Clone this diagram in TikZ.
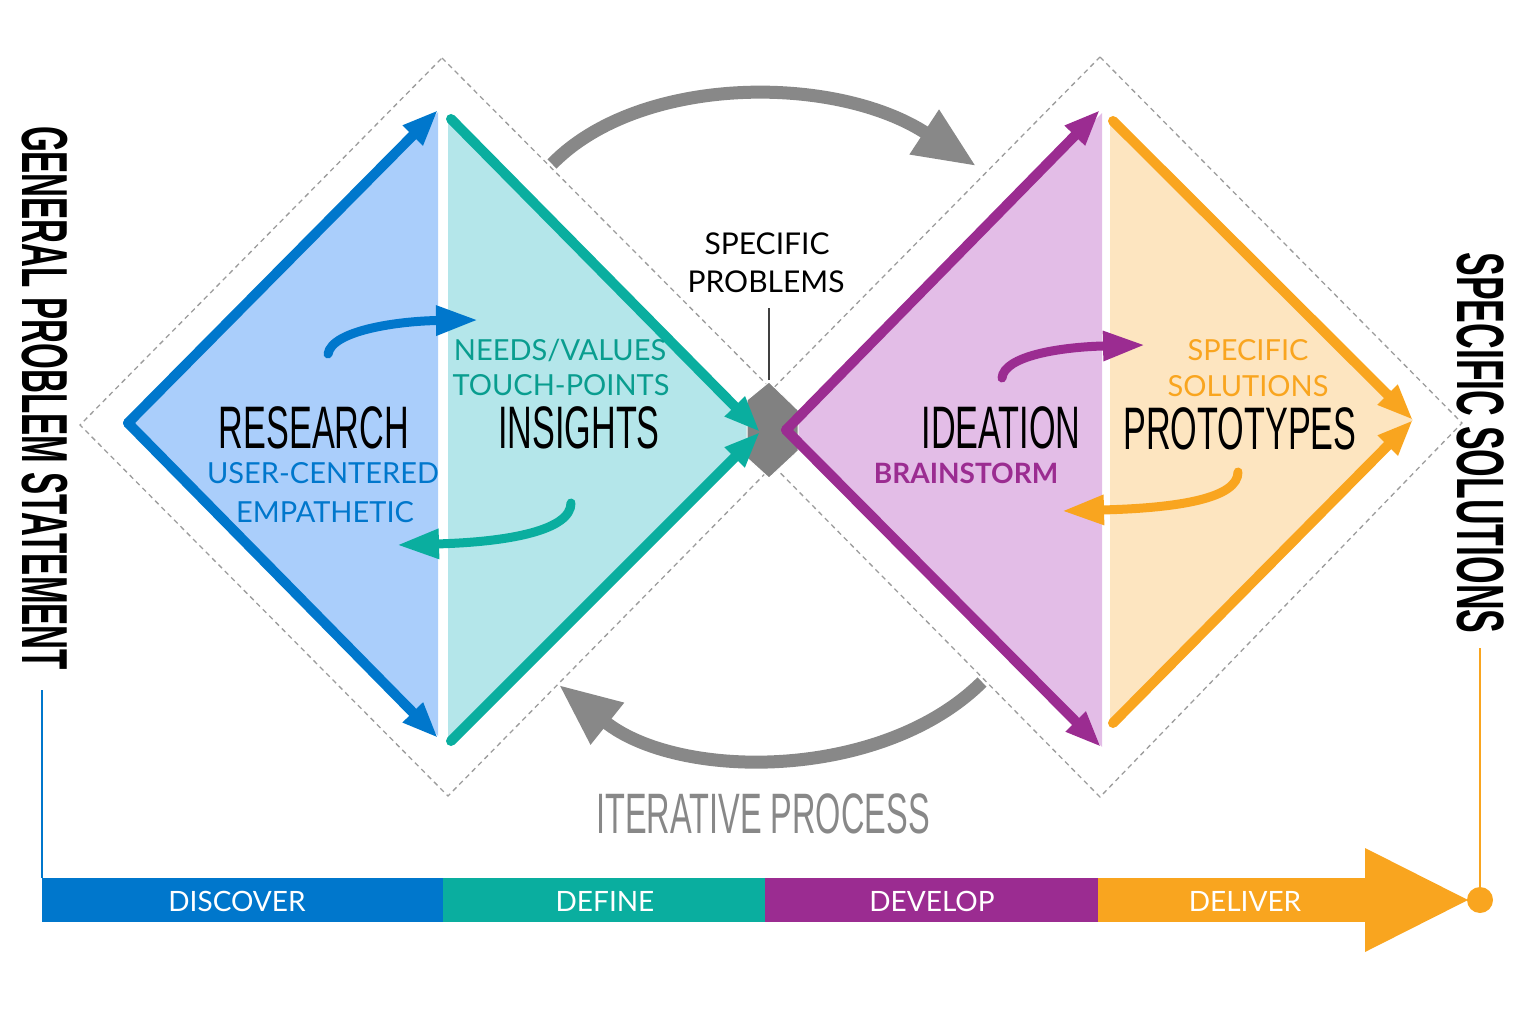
\documentclass[tikz,border=0pt]{standalone}
\usepackage{fontspec}
\setmainfont{Lato}
\newfontfamily\condfont[FakeStretch=0.57]{Liberation Sans}
\newfontfamily\condboldfont[FakeStretch=0.51]{Liberation Sans Bold}
\newfontfamily\condwidefont[FakeStretch=0.53]{Liberation Sans Bold}
\usetikzlibrary{arrows.meta}
\definecolor{discoverblue}{HTML}{0077CC}
\definecolor{discoverfill}{HTML}{AACEFB}
\definecolor{defineteal}{HTML}{0AAE9F}
\definecolor{definefill}{HTML}{B4E6EA}
\definecolor{developpurple}{HTML}{9B2C91}
\definecolor{developfill}{HTML}{E3BDE7}
\definecolor{deliverorange}{HTML}{F9A51F}
\definecolor{deliverfill}{HTML}{FDE5C0}
\definecolor{iterategray}{HTML}{888888}
\definecolor{guidegray}{HTML}{9C9C9C}

\begin{document}
\begin{tikzpicture}[x=1pt, y=-1pt,
    guide/.style={draw=guidegray, line width=1.3pt, dash pattern=on 5pt off 4pt},
    rim/.style={line width=10pt, line cap=round, line join=round, -{Triangle[length=36pt,width=26pt]}},
    loopback/.style={line width=9pt, line cap=round, -{Triangle[length=42pt,width=28pt]}},
    bigarc/.style={iterategray, line width=13pt, -{Triangle[length=62pt,width=50pt]}},
    headline/.style={font=\condfont\fontsize{60}{60}\selectfont, anchor=base, inner sep=0pt},
    tag/.style={font=\fontsize{29}{29}\selectfont, anchor=base, inner sep=0pt},
    sidetitle/.style={font=\condboldfont\fontsize{65}{65}\selectfont, rotate=-90, inner sep=0pt},
    phase/.style={font=\fontsize{28}{28}\selectfont, text=white, anchor=base, inner sep=0pt}]
    \useasboundingbox (0,0) rectangle (1536,1024);

    % dashed double diamond
    \draw[guide] (442,58) -- (810,428) -- (448,796) -- (80,425) -- cycle;
    \draw[guide] (1100,57) -- (1462,423) -- (1100,797) -- (735,427) -- cycle;

    % corner points of the four halves
    \coordinate (discL) at (128,423);
    \coordinate (discT) at (438,110);
    \coordinate (discB) at (438,738);
    \coordinate (defT) at (451,119);
    \coordinate (defB) at (451,741);
    \coordinate (defR) at (760,432);
    \coordinate (devL) at (786,430);
    \coordinate (devT) at (1100,110);
    \coordinate (devB) at (1101,747);
    \coordinate (delT) at (1113,121);
    \coordinate (delB) at (1113,723);
    \coordinate (delR) at (1413,420);

    \fill[discoverfill] (128,423) -- (438,112) -- (438,736) -- cycle;
    \fill[definefill] (448,116) -- (760,432) -- (448,744) -- cycle;
    \fill[developfill] (786,430) -- (1102,113) -- (1102,747) -- cycle;
    \fill[deliverfill] (1110,118) -- (1413,420) -- (1110,727) -- cycle;

    % specific problems marker
    \fill[iterategray!95!black, draw=white, line width=1pt]
        (769,382) -- (798,410) -- (798,451) -- (769,478) -- (747,458) -- (747,400) -- cycle;
    \coordinate (probTop) at (769,380);
    \node[tag, font=\fontsize{30}{30}\selectfont] (probA) at (767,255) {SPECIFIC};
    \node[tag, font=\fontsize{30}{30}\selectfont] (probB) at (766,293) {PROBLEMS};
    \draw[line width=1.2pt, black!75] (769,308) -- (probTop);

    % diamond rims
    \draw[rim, discoverblue] (discL) -- (discT);
    \draw[rim, discoverblue] (discL) -- (discB);
    \draw[rim, defineteal] (defT) -- (defR);
    \draw[rim, defineteal] (defB) -- (defR);
    \draw[rim, developpurple] (devL) -- (devT);
    \draw[rim, developpurple] (devL) -- (devB);
    \draw[rim, deliverorange] (delT) -- (delR);
    \draw[rim, deliverorange] (delB) -- (delR);

    % small loops between halves
    \draw[loopback, discoverblue] (328,354) .. controls (332,330) and (400,321) .. (478,320);
    \draw[loopback, defineteal] (571,503) .. controls (571,530) and (510,542) .. (397,545);
    \draw[loopback, developpurple] (1002,378) .. controls (1004,356) and (1060,347) .. (1145,345);
    \draw[loopback, deliverorange] (1238,472) .. controls (1238,498) and (1180,508) .. (1062,511);

    % labels inside the diamonds
    \node[headline] (research) at (314,448) {RESEARCH};
    \node[tag, text=discoverblue] (usercent) at (323,483) {USER-CENTERED};
    \node[tag, text=discoverblue] (empath) at (325,522) {EMPATHETIC};
    \node[tag, text=defineteal!90!black] (needs) at (560,360) {NEEDS/VALUES};
    \node[tag, text=defineteal!90!black] (touch) at (561,395) {TOUCH-POINTS};
    \node[headline] (insights) at (579,448) {INSIGHTS};
    \node[headline] (ideation) at (1001,448) {IDEATION};
    \node[tag, font=\bfseries\fontsize{28}{28}\selectfont, text=developpurple] (brain) at (966,483) {BRAINSTORM};
    \node[tag, text=deliverorange] (specsol) at (1248,360) {SPECIFIC};
    \node[tag, text=deliverorange] (solut) at (1248,396) {SOLUTIONS};
    \node[headline] (prototypes) at (1240,449) {PROTOTYPES};

    % iterative process arcs
    \coordinate (iterA) at (552,164);
    \coordinate (iterB) at (976,166);
    \coordinate (iterC) at (982,682);
    \coordinate (iterD) at (559,685);
    \draw[bigarc] (iterA) .. controls (640,74) and (836,74) .. (iterB);
    \draw[bigarc] (iterC) .. controls (882,781) and (679,781) .. (iterD);
    \node[headline, font=\condfont\fontsize{57}{57}\selectfont, text=iterategray] (iterate) at (763,833) {ITERATIVE PROCESS};

    % phase bar
    \foreach \xa/\xb/\col/\lab/\xl in {42/443/discoverblue/DISCOVER/237, 443/765/defineteal/DEFINE/605,
                                       765/1098/developpurple/DEVELOP/932, 1098/1366/deliverorange/DELIVER/1245} {
        \fill[\col] (\xa,878) rectangle (\xb,922);
        \node[phase] (bar\lab) at (\xl,911) {\lab};
    }
    \fill[deliverorange] (1365,848) -- (1468,900) -- (1365,952) -- cycle;
    \node[circle, fill=deliverorange, minimum size=26pt, inner sep=0pt] (goal) at (1480,900) {};
    \coordinate (startFoot) at (42,878);

    % side titles
    \node[sidetitle] (general) at (45,398) {GENERAL PROBLEM STATEMENT};
    \node[sidetitle, font=\condwidefont\fontsize{67}{67}\selectfont] (specific) at (1481,443) {SPECIFIC SOLUTIONS};
    \draw[discoverblue, line width=1.5pt] (42,690) -- (startFoot);
    \draw[deliverorange, line width=2pt] (1480,648) -- (goal);
\end{tikzpicture}
\end{document}
